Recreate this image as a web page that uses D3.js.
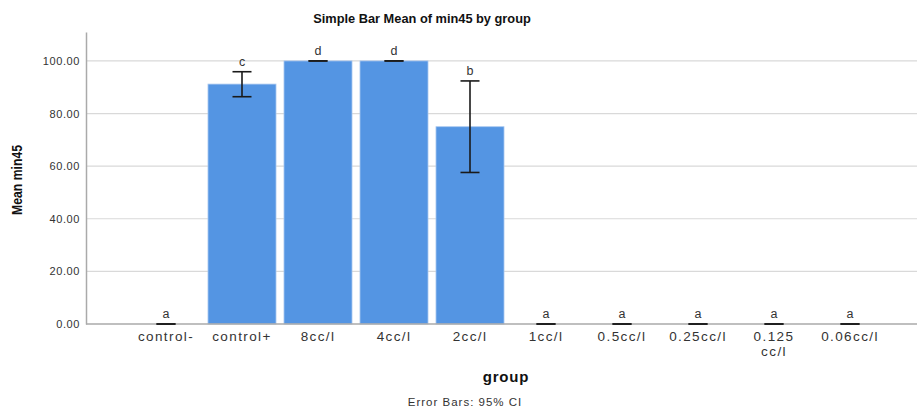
<!DOCTYPE html>
<html>
<head>
<meta charset="utf-8">
<script src="https://cdn.jsdelivr.net/npm/d3@7"></script>
<style>
  html, body { margin: 0; padding: 0; background: #fff; }
  svg { display: block; font-family: "Liberation Sans", Arial, sans-serif; }
</style>
</head>
<body>
<svg id="chart" width="917" height="407"></svg>
<script>
// Group labels (multi-line labels split on "\n")
const groups = ["control-", "control+", "8cc/l", "4cc/l", "2cc/l", "1cc/l", "0.5cc/l", "0.25cc/l", "0.125\ncc/l", "0.06cc/l"];
// Mean min45 per group
const means = [0, 91.2, 100, 100, 75, 0, 0, 0, 0, 0];
// 95% CI bounds
const ciLow = [0, 86.4, 100, 100, 57.6, 0, 0, 0, 0, 0];
const ciHigh = [0, 95.9, 100, 100, 92.4, 0, 0, 0, 0, 0];
// Significance group letters
const letters = ["a", "c", "d", "d", "b", "a", "a", "a", "a", "a"];
// Y tick values
const yTicks = [0, 20, 40, 60, 80, 100];

const svg = d3.select("#chart");
const plot = { left: 86, right: 917, top: 32, bottom: 324 };

const x = d3.scaleBand()
  .domain(groups)
  .range([128, 888])
  .paddingInner(0.105)
  .paddingOuter(0.0525);

const y = d3.scaleLinear()
  .domain([0, 111])
  .range([plot.bottom, plot.top]);

// Gridlines
svg.append("g").selectAll("line").data(yTicks.filter(d => d > 0)).join("line")
  .attr("x1", plot.left).attr("x2", plot.right)
  .attr("y1", d => y(d)).attr("y2", d => y(d))
  .attr("stroke", "#d9d9d9").attr("stroke-width", 1.2);

// Y axis
const yAxis = svg.append("g")
  .attr("transform", `translate(${plot.left},0)`)
  .call(d3.axisLeft(y).tickValues(yTicks).tickFormat(d3.format(".2f")).tickSize(0).tickPadding(6));
yAxis.select(".domain").attr("stroke", "#aaa").attr("stroke-width", 1.5);
yAxis.selectAll("text")
  .attr("font-size", 11).attr("letter-spacing", 0.6).attr("fill", "#333");

// Bars
const data = groups.map((g, i) => ({ g, m: means[i], lo: ciLow[i], hi: ciHigh[i], l: letters[i] }));
svg.append("g").selectAll("rect").data(data).join("rect")
  .attr("x", d => x(d.g))
  .attr("width", x.bandwidth())
  .attr("y", d => y(d.m))
  .attr("height", d => y(0) - y(d.m))
  .attr("fill", "#5495e3")
  .attr("stroke", "#a9c8ef")
  .attr("stroke-width", 0.8);

// X axis
const xAxis = svg.append("g")
  .attr("transform", `translate(0,${plot.bottom})`)
  .call(d3.axisBottom(x).tickSize(0).tickPadding(7));
xAxis.select(".domain").remove();
svg.append("line")
  .attr("x1", plot.left).attr("x2", plot.right)
  .attr("y1", plot.bottom).attr("y2", plot.bottom)
  .attr("stroke", "#aaa").attr("stroke-width", 1.5);
xAxis.selectAll("text")
  .attr("font-size", 13.5).attr("letter-spacing", 1.4).attr("fill", "#333")
  .each(function(d) {
    const parts = d.split("\n");
    const t = d3.select(this).text(null);
    parts.forEach((p, k) => t.append("tspan").attr("x", 0).attr("dy", k === 0 ? "0.71em" : "1.15em").text(p));
  });

// Error bars
const cap = 19;
const eb = svg.append("g").attr("stroke", "#1a1a1a").attr("stroke-width", 1.6);
data.forEach(d => {
  const cx = x(d.g) + x.bandwidth() / 2;
  if (d.hi > d.lo) {
    eb.append("line").attr("x1", cx).attr("x2", cx).attr("y1", y(d.hi)).attr("y2", y(d.lo));
  }
  eb.append("line").attr("x1", cx - cap / 2).attr("x2", cx + cap / 2).attr("y1", y(d.hi)).attr("y2", y(d.hi));
  eb.append("line").attr("x1", cx - cap / 2).attr("x2", cx + cap / 2).attr("y1", y(d.lo)).attr("y2", y(d.lo));
});

// Letters above error bars
svg.append("g").selectAll("text").data(data).join("text")
  .attr("x", d => x(d.g) + x.bandwidth() / 2)
  .attr("y", d => y(d.hi) - 6)
  .attr("text-anchor", "middle")
  .attr("font-size", 12.5)
  .attr("fill", "#333")
  .text(d => d.l);

// Title
svg.append("text")
  .attr("x", 422).attr("y", 23)
  .attr("text-anchor", "middle")
  .attr("font-size", 12.8).attr("font-weight", "bold").attr("fill", "#111")
  .text("Simple Bar Mean of min45 by group");

// Y axis title
svg.append("text")
  .attr("transform", "translate(22,180) rotate(-90)")
  .attr("text-anchor", "middle")
  .attr("font-size", 14).attr("font-weight", "bold").attr("fill", "#111")
  .attr("textLength", 70).attr("lengthAdjust", "spacingAndGlyphs")
  .text("Mean min45");

// X axis title
svg.append("text")
  .attr("x", 506).attr("y", 382)
  .attr("text-anchor", "middle")
  .attr("font-size", 15).attr("letter-spacing", 0.8).attr("font-weight", "bold").attr("fill", "#111")
  .text("group");

// Footnote
svg.append("text")
  .attr("x", 465).attr("y", 406)
  .attr("text-anchor", "middle")
  .attr("font-size", 11.5).attr("letter-spacing", 1).attr("fill", "#333")
  .text("Error Bars: 95% CI");
</script>
</body>
</html>
